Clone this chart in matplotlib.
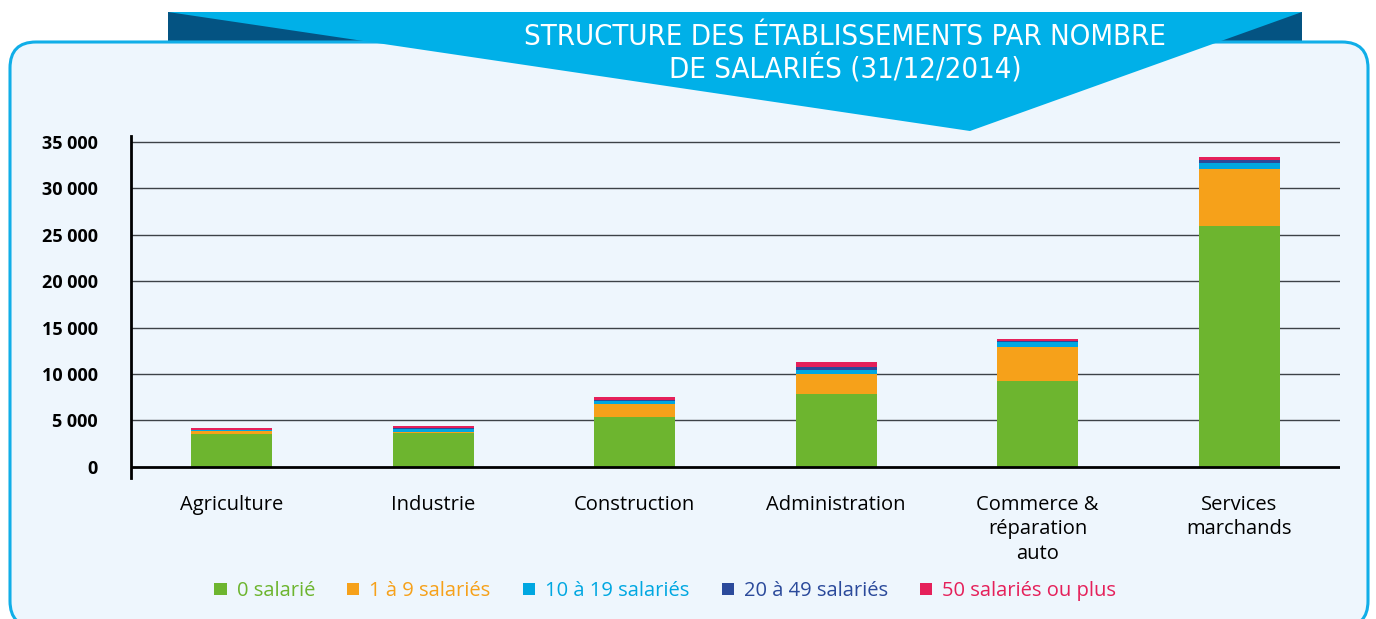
import matplotlib.pyplot as plt
from matplotlib.patches import FancyBboxPatch, Polygon, Rectangle
import numpy as np

# données (établissements au 31/12/2014)
secteurs = ['Agriculture', 'Industrie', 'Construction', 'Administration',
            'Commerce &\nréparation\nauto', 'Services\nmarchands']
sal_0 = [3550, 3600, 5350, 7830, 9230, 25900]
sal_1_9 = [280, 150, 1400, 2150, 3660, 6150]
sal_10_19 = [130, 280, 330, 430, 600, 650]
sal_20_49 = [60, 120, 80, 330, 100, 350]
sal_50_plus = [130, 200, 330, 530, 150, 300]

series = [sal_0, sal_1_9, sal_10_19, sal_20_49, sal_50_plus]
noms = ['0 salarié', '1 à 9 salariés', '10 à 19 salariés',
        '20 à 49 salariés', '50 salariés ou plus']
couleurs = ['#6DB52F', '#F6A11A', '#00A7E1', '#2B4A9B', '#E5205A']
yticks = [0, 5000, 10000, 15000, 20000, 25000, 30000, 35000]

W, H = 1376, 619
fig = plt.figure(figsize=(W / 100, H / 100), dpi=100)
fig.patch.set_facecolor('white')

# fond : cadre arrondi + bandeau du titre
bg = fig.add_axes([0, 0, 1, 1], zorder=0)
bg.set_xlim(0, W)
bg.set_ylim(H, 0)
bg.axis('off')
bg.add_patch(Rectangle((168, 12), 1134, 40, facecolor='#045382', edgecolor='none'))
bg.add_patch(FancyBboxPatch((10, 42), 1358, 585,
                            boxstyle='round,pad=0,rounding_size=26',
                            facecolor='#EEF6FD', edgecolor='#10AEE8', linewidth=2.2))
bg.add_patch(Polygon([(168, 12), (1302, 12), (970, 131)], closed=True,
                     facecolor='#00B0E8', edgecolor='none'))
for ty, txt in [(37, 'STRUCTURE DES ÉTABLISSEMENTS PAR NOMBRE'),
                (70, 'DE SALARIÉS (31/12/2014)')]:
    bg.text(845, ty, txt, color='white', ha='center', va='center', fontsize=21,
            family='DejaVu Sans', fontstretch='condensed', fontweight='light')

# graphique
ax = fig.add_axes([131 / W, 1 - 478 / H, (1340 - 131) / W, (478 - 135.5) / H], zorder=1)
ax.patch.set_alpha(0)
x = np.arange(len(secteurs))
bas = np.zeros(len(secteurs))
for vals, nom, c in zip(series, noms, couleurs):
    ax.bar(x, vals, bottom=bas, width=0.4, color=c, label=nom, zorder=3)
    bas += np.array(vals)

ax.set_xlim(-0.5, 5.5)
ax.set_ylim(-1200, 35700)
for t in yticks[1:]:
    ax.axhline(t, color='#3d4247', linewidth=1.0, zorder=1)
ax.axhline(0, color='black', linewidth=2, zorder=4)
for s in ['top', 'right', 'bottom']:
    ax.spines[s].set_visible(False)
ax.spines['left'].set_linewidth(2)
ax.set_yticks(yticks)
ax.set_yticklabels([f'{t:,}'.replace(',', ' ') for t in yticks],
                   fontsize=13, fontweight='bold', family='Open Sans')
ax.tick_params(axis='y', length=0, pad=24)
ax.set_xticks(x)
ax.set_xticklabels(secteurs, fontsize=14.5, family='Open Sans', va='top', linespacing=1.32)
ax.tick_params(axis='x', length=0, pad=12)

leg = ax.legend(loc='center', bbox_to_anchor=(0.442, -0.33), ncol=5, frameon=False,
                handlelength=0.6, handleheight=0.6, handletextpad=0.5,
                columnspacing=1.6, labelcolor=couleurs,
                prop={'family': 'Open Sans', 'size': 14.5})

fig.savefig('out.png', dpi=100)
